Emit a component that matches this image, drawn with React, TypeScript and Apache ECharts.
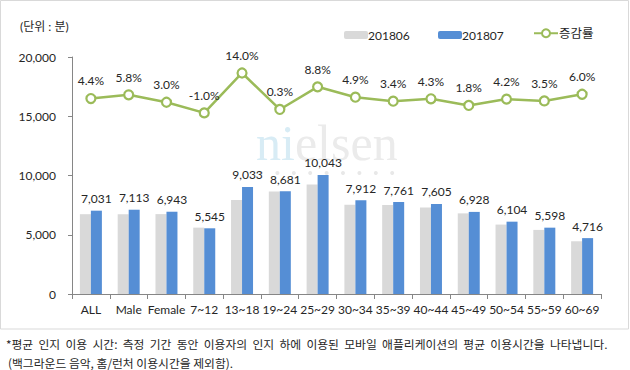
import React, { useEffect, useRef } from "react";
import * as echarts from "echarts";

const categories = ["ALL", "Male", "Female", "7~12", "13~18", "19~24", "25~29", "30~34", "35~39", "40~44", "45~49", "50~54", "55~59", "60~69"];
const june = [6735, 6723, 6741, 5601, 7924, 8655, 9231, 7542, 7506, 7291, 6805, 5858, 5409, 4449];
const july = [7031, 7113, 6943, 5545, 9033, 8681, 10043, 7912, 7761, 7605, 6928, 6104, 5598, 4716];
const growth = [4.4, 5.8, 3.0, -1.0, 14.0, 0.3, 8.8, 4.9, 3.4, 4.3, 1.8, 4.2, 3.5, 6.0];
const yTicks = [0, 5000, 10000, 15000, 20000];
const seriesNames = ["201806", "201807", "증감률"];
const unitText = "(단위 : 분)";
const footnote1 = "*평균  인지  이용  시간:  측정  기간  동안  이용자의  인지  하에  이용된  모바일  애플리케이션의  평균  이용시간을  나타냅니다.";
const footnote2 = "(백그라운드 음악, 홈/런처 이용시간을 제외함).";

const FONT = "Lato, 'Noto Sans CJK KR', sans-serif";
const TXT = "#262626";

export default function App() {
  const ref = useRef<HTMLDivElement>(null);
  useEffect(() => {
    if (!ref.current) return;
    const chart = echarts.init(ref.current, undefined, { renderer: "svg" });
    const dots = Array.from({ length: 9 }, (_, i) => ({
      type: "circle",
      shape: { cx: 261 + i * 16.4, cy: 173, r: 2 },
      style: { fill: "#e8e8e8" },
      silent: true,
      z: 0,
    }));
    chart.setOption({
      animation: false,
      textStyle: { fontFamily: FONT },
      grid: { left: 72, right: 29, top: 57, bottom: 76, containLabel: false },
      legend: [
        {
          data: [seriesNames[0]], left: 339, top: 24, itemWidth: 24, itemHeight: 8,
          textStyle: { fontSize: 12, color: TXT, fontFamily: FONT, padding: [0, 0, 0, -5] },
        },
        {
          data: [seriesNames[1]], left: 433, top: 24, itemWidth: 24, itemHeight: 8,
          textStyle: { fontSize: 12, color: TXT, fontFamily: FONT, padding: [0, 0, 0, -5] },
        },
        {
          data: [seriesNames[2]], left: 528, top: 22, itemWidth: 24, itemHeight: 10,
          textStyle: { fontSize: 12.5, color: TXT, fontFamily: FONT, padding: [0, 0, 0, -4] },
        },
      ],
      xAxis: {
        type: "category",
        data: categories,
        axisLine: { lineStyle: { color: "#868686", width: 1 } },
        axisTick: { show: true, length: 5, alignWithLabel: false, lineStyle: { color: "#868686" } },
        axisLabel: { fontSize: 12, color: TXT, margin: 9, interval: 0, fontFamily: FONT },
      },
      yAxis: [
        {
          type: "value",
          min: 0,
          max: yTicks[yTicks.length - 1],
          interval: yTicks[1] - yTicks[0],
          axisLine: { show: true, lineStyle: { color: "#868686" } },
          axisTick: { show: true, length: 4, inside: false, lineStyle: { color: "#868686" } },
          splitLine: { show: false },
          axisLabel: {
            fontSize: 12, color: TXT, margin: 16, fontFamily: FONT,
            formatter: (v: number) => v.toLocaleString("en-US"),
          },
        },
        {
          type: "value",
          min: -69,
          max: 20,
          show: false,
          splitLine: { show: false },
        },
      ],
      graphic: [
        {
          type: "rect",
          shape: { x: 0.5, y: 0.5, width: 628, height: 328.5 },
          style: { fill: "none", stroke: "#d9d9d9", lineWidth: 1 },
          silent: true,
          z: 0,
        },
        {
          type: "text",
          x: 20,
          y: 26,
          style: { text: unitText, fontSize: 12, fill: TXT, fontFamily: FONT, verticalAlign: "middle" },
          z: 10,
        },
        {
          type: "text",
          x: 256,
          y: 143,
          silent: true,
          z: 0,
          style: {
            text: "{a|ni}{b|elsen}",
            verticalAlign: "middle",
            rich: {
              a: { fontFamily: "'Liberation Serif', serif", fontSize: 50, fill: "#d8ecf5" },
              b: { fontFamily: "'Liberation Serif', serif", fontSize: 50, fill: "#ebebeb" },
            },
          },
        },
        ...dots,
        {
          type: "text",
          x: 6,
          y: 343,
          style: { text: footnote1, fontSize: 11.8, fill: TXT, fontFamily: "'Noto Sans CJK KR', sans-serif", verticalAlign: "middle" },
        },
        {
          type: "text",
          x: 8,
          y: 362,
          style: { text: footnote2, fontSize: 11.8, fill: TXT, fontFamily: "'Noto Sans CJK KR', sans-serif", verticalAlign: "middle" },
        },
      ],
      series: [
        {
          name: seriesNames[0],
          type: "bar",
          data: june,
          barWidth: 11,
          barGap: "0%",
          itemStyle: { color: "#d9d9d9" },
          z: 2,
        },
        {
          name: seriesNames[1],
          type: "bar",
          data: july,
          barWidth: 11,
          barGap: "0%",
          itemStyle: { color: "#558ed5" },
          label: {
            show: true,
            position: "top",
            distance: 6,
            fontSize: 12,
            color: TXT,
            fontFamily: FONT,
            formatter: (p: any) => Number(p.value).toLocaleString("en-US"),
          },
          z: 2,
        },
        {
          name: seriesNames[2],
          type: "line",
          yAxisIndex: 1,
          data: growth,
          symbol: "circle",
          symbolSize: 9,
          lineStyle: { color: "#9bbb59", width: 2.5 },
          itemStyle: { color: "#ffffff", borderColor: "#9bbb59", borderWidth: 2.2 },
          label: {
            show: true,
            position: "top",
            distance: 6,
            fontSize: 12,
            color: TXT,
            fontFamily: FONT,
            formatter: (p: any) => Number(p.value).toFixed(1) + "%",
          },
          z: 5,
        },
      ],
    });
    return () => chart.dispose();
  }, []);
  return (
    <div
      ref={ref}
      style={{ position: "fixed", left: 0, top: 0, width: 630, height: 370, background: "#ffffff" }}
    />
  );
}
